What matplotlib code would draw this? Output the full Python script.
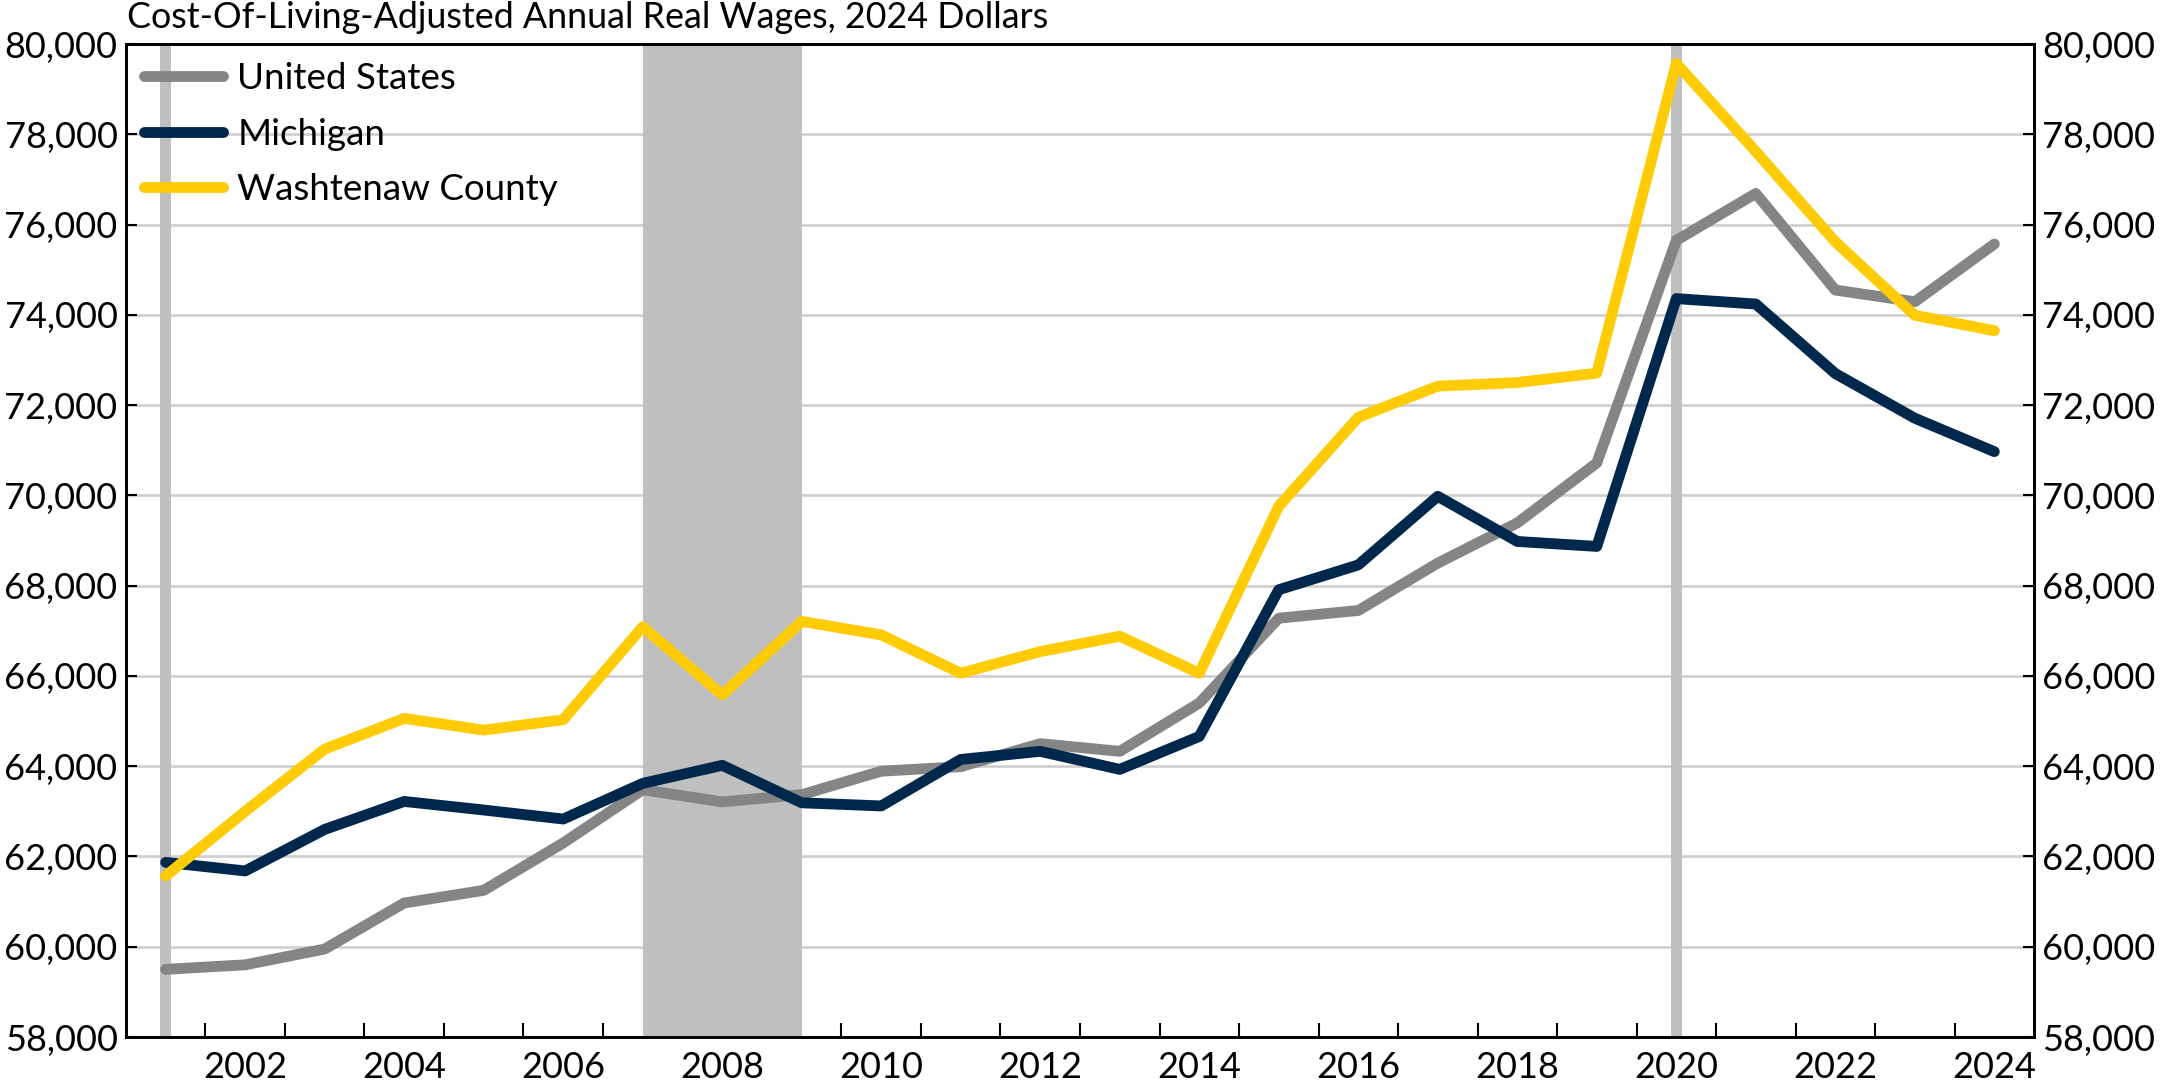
import matplotlib
matplotlib.use("Agg")
import matplotlib.pyplot as plt
from matplotlib.ticker import FuncFormatter

plt.rcParams["font.family"] = ["Lato", "DejaVu Sans"]

years = list(range(2001, 2025))
us = [59500, 59600, 59950, 60970, 61250, 62300, 63480, 63210, 63370, 63890,
      63990, 64500, 64330, 65400, 67280, 67450, 68500, 69390, 70720, 75650,
      76690, 74550, 74290, 75570]
michigan = [61870, 61680, 62600, 63220, 63030, 62830, 63620, 64020, 63190, 63120,
            64150, 64330, 63930, 64660, 67910, 68460, 69980, 68980, 68870, 74360,
            74240, 72700, 71710, 70970]
washtenaw = [61570, 63000, 64380, 65060, 64800, 65030, 67090, 65580, 67210, 66910,
             66060, 66540, 66880, 66060, 69760, 71730, 72420, 72500, 72710, 79570,
             77620, 75620, 73990, 73650]
recessions = [(2000.93, 2001.07), (2007.0, 2009.0), (2019.93, 2020.07)]
label_years = list(range(2002, 2025, 2))

title = "Cost-Of-Living-Adjusted Annual Real Wages, 2024 Dollars"
series = [("United States", us, "#858585"),
          ("Michigan", michigan, "#00274C"),
          ("Washtenaw County", washtenaw, "#FFCB05")]

fig = plt.figure(figsize=(21.6, 10.85), dpi=100)
ax = fig.add_axes([0.0583, 0.0442, 0.8834, 0.9152])

for lo, hi in recessions:
    ax.axvspan(lo, hi, color="#BFBFBF", lw=0, zorder=1)

for name, vals, c in series:
    ax.plot(years, vals, color=c, lw=7.8, label=name, zorder=3,
            solid_capstyle="round", solid_joinstyle="round")

ax.set_xlim(2000.5, 2024.5)
ax.set_ylim(58000, 80000)
ax.set_yticks(range(58000, 80001, 2000))
fmt = FuncFormatter(lambda v, p: f"{int(v):,}")
ax.yaxis.set_major_formatter(fmt)
ax.grid(axis="y", color="#D0D0D0", lw=2, zorder=0)
ax.set_axisbelow(True)

# year labels sit on the points, tick marks fall between years
ax.set_xticks(label_years)
ax.set_xticks([y + 0.5 for y in range(2001, 2024)], minor=True)
ax.tick_params(axis="x", which="major", length=0, pad=10, labelsize=26)
ax.tick_params(axis="x", which="minor", direction="in", length=10, width=1.5)
ax.tick_params(axis="y", direction="in", length=8, width=1.5, labelsize=26, pad=6)

ax2 = ax.twinx()
ax2.set_ylim(ax.get_ylim())
ax2.set_yticks(range(58000, 80001, 2000))
ax2.yaxis.set_major_formatter(fmt)
ax2.tick_params(axis="y", direction="in", length=8, width=1.5, labelsize=26, pad=6)

for a in (ax, ax2):
    for s in a.spines.values():
        s.set_linewidth(2)
        s.set_color("black")

ax.legend(loc="upper left", bbox_to_anchor=(0.0, 1.0), frameon=False,
          fontsize=26.5, handlelength=2.15, handletextpad=0.4, labelspacing=0.62,
          borderpad=0.2, borderaxespad=0.28)

fig.text(0.059, 0.999, title, fontsize=25.8, va="top", ha="left")

fig.savefig("out.png", dpi=100)
